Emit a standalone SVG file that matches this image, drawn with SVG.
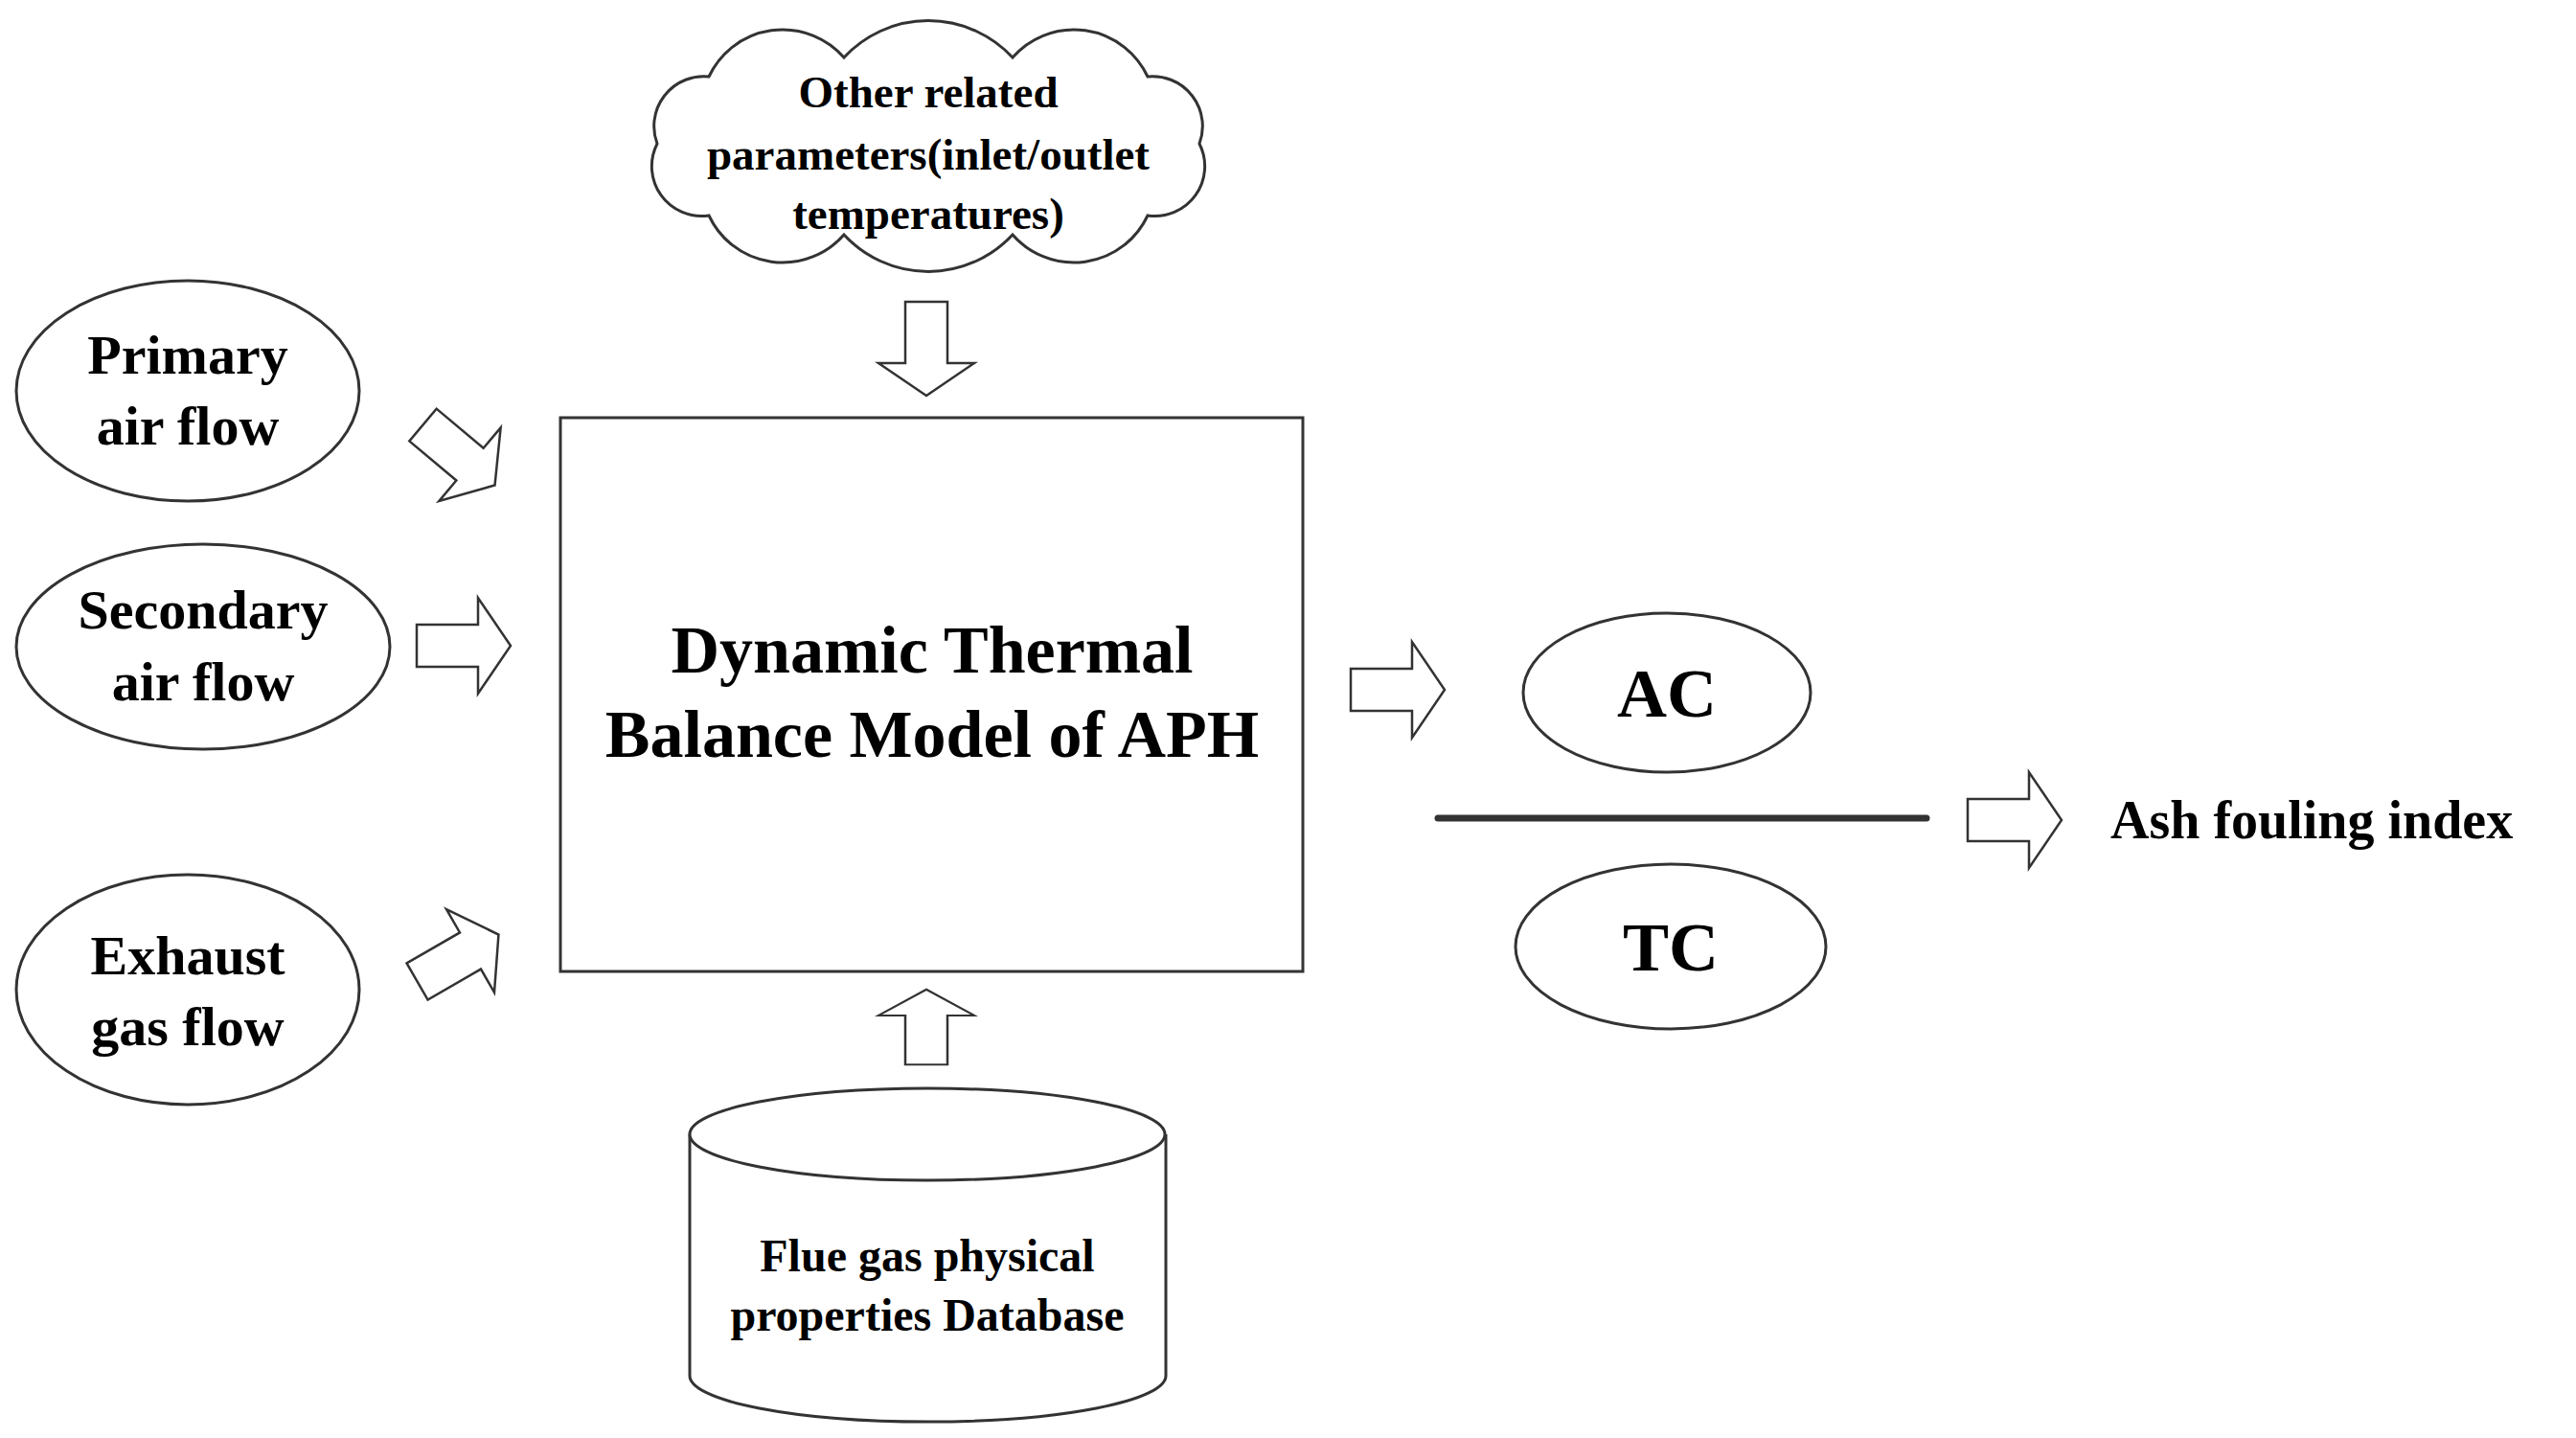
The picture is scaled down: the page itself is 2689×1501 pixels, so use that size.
<svg xmlns="http://www.w3.org/2000/svg" width="2689" height="1501" viewBox="0 0 2689 1501">
<style>
.s{fill:#fff;stroke:#333;stroke-width:3}
.t{font-family:"Liberation Serif",serif;font-weight:bold;fill:#000;text-anchor:middle}
</style>
<defs>
<path id="ba" d="M-49,-22 H15 V-50 L49,0 L15,50 V22 H-49 Z" fill="#fff" stroke="#333" stroke-width="2.5"/>
</defs>
<rect width="2689" height="1501" fill="#fff"/>
<g id="cloud">
<path class="s" d="M1252,150 A52,52 0 0 1 1198,225 A85,85 0 0 1 1057,245 A120,120 0 0 1 881,245 A85,85 0 0 1 740,225 A52,52 0 0 1 686,150 A52,52 0 0 1 740,80 A85,85 0 0 1 881,60 A120,120 0 0 1 1057,60 A85,85 0 0 1 1198,80 A52,52 0 0 1 1252,150 Z"/>
<text class="t" font-size="47" x="969" y="112">Other related</text>
<text class="t" font-size="47" x="969" y="177">parameters(inlet/outlet</text>
<text class="t" font-size="47" x="969" y="239">temperatures)</text>
</g>
<g id="primary"><ellipse class="s" cx="196" cy="408" rx="179" ry="115"/>
<text class="t" font-size="58" x="196" y="390">Primary</text><text class="t" font-size="58" x="196" y="464">air flow</text></g>
<g id="secondary"><ellipse class="s" cx="212" cy="675" rx="195" ry="107"/>
<text class="t" font-size="58" x="212" y="656">Secondary</text><text class="t" font-size="58" x="212" y="731">air flow</text></g>
<g id="exhaust"><ellipse class="s" cx="196" cy="1033" rx="179" ry="120"/>
<text class="t" font-size="58" x="196" y="1017">Exhaust</text><text class="t" font-size="58" x="196" y="1091">gas flow</text></g>
<g id="model"><rect class="s" x="585" y="436" width="775" height="578"/>
<text class="t" font-size="70" x="973" y="702">Dynamic Thermal</text><text class="t" font-size="70" x="973" y="790">Balance Model of APH</text></g>
<g id="database">
<path class="s" stroke-width="5" d="M720,1184 V1436 A248,48 0 0 0 1217,1436 V1184"/>
<ellipse class="s" stroke-width="5" cx="968" cy="1184" rx="248" ry="48"/>
<text class="t" font-size="48" x="968" y="1327">Flue gas physical</text><text class="t" font-size="48" x="968" y="1389">properties Database</text></g>
<g id="ac"><ellipse class="s" cx="1740" cy="723" rx="150" ry="83"/><text class="t" font-size="72" x="1740" y="748">AC</text></g>
<g id="tc"><ellipse class="s" cx="1744" cy="988" rx="162" ry="86"/><text class="t" font-size="72" x="1744" y="1013">TC</text></g>
<g id="ash"><text class="t" font-size="56" x="2203" y="875" style="text-anchor:start">Ash fouling index</text></g>
<g id="connectors">
<use href="#ba" transform="translate(967,364) rotate(90)"/>
<use href="#ba" transform="translate(967,1072) rotate(-90) scale(0.8,1)"/>
<use href="#ba" transform="translate(479,475) rotate(40)"/>
<use href="#ba" transform="translate(484,674)"/>
<use href="#ba" transform="translate(478,1000) rotate(-30)"/>
<use href="#ba" transform="translate(1459,720)"/>
<use href="#ba" transform="translate(2103,856)"/>
<line x1="1501" y1="854" x2="2011" y2="854" stroke="#333" stroke-width="7" stroke-linecap="round"/>
</g>
</svg>
